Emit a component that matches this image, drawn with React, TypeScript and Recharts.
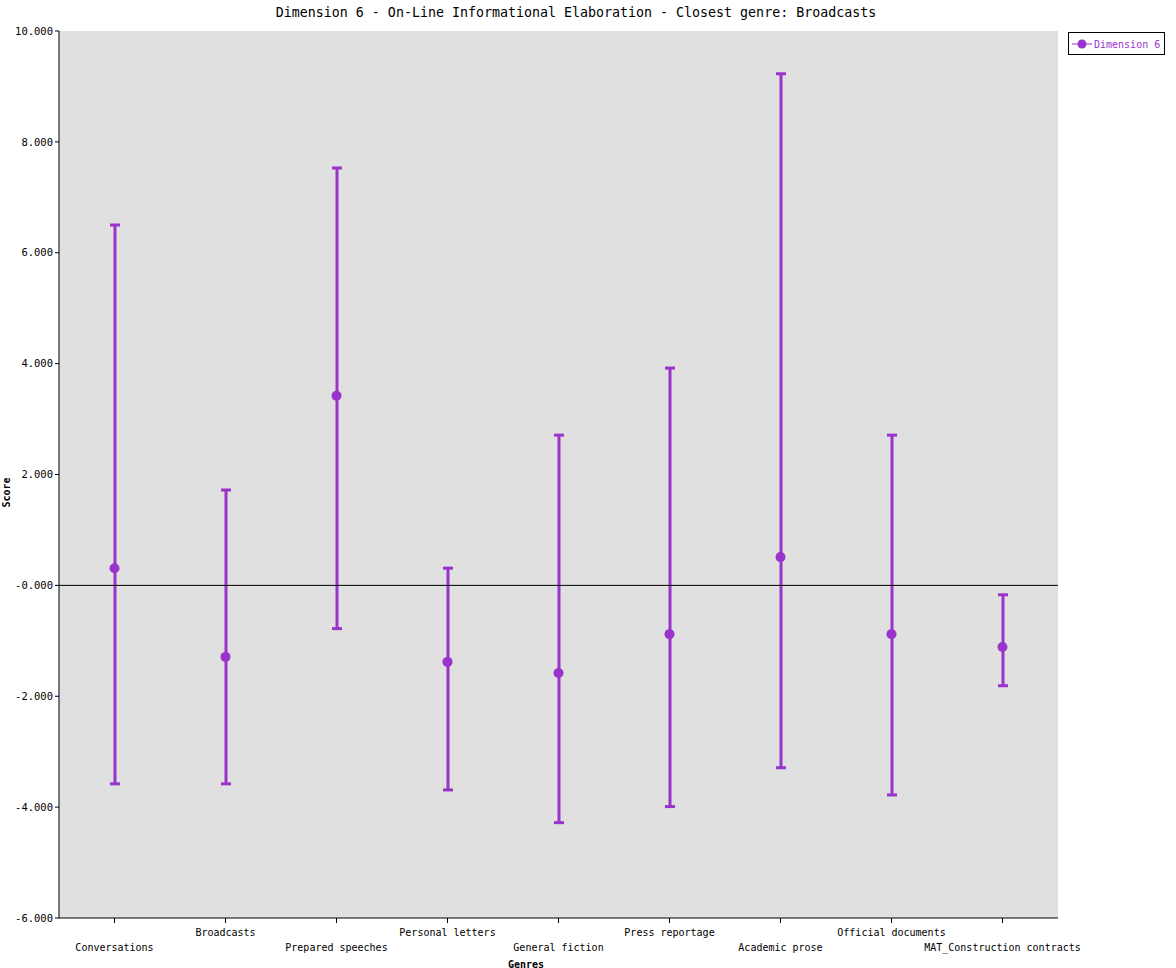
import React from 'react';
import { ComposedChart, Bar, Line, XAxis, YAxis, CartesianGrid, ReferenceLine } from 'recharts';

const genres = [
  'Conversations',
  'Broadcasts',
  'Prepared speeches',
  'Personal letters',
  'General fiction',
  'Press reportage',
  'Academic prose',
  'Official documents',
  'MAT_Construction contracts',
];
const means = [0.31, -1.29, 3.42, -1.38, -1.58, -0.88, 0.51, -0.88, -1.11];
const lows = [-3.58, -3.58, -0.78, -3.69, -4.28, -3.99, -3.29, -3.78, -1.81];
const highs = [6.5, 1.72, 7.53, 0.31, 2.71, 3.92, 9.23, 2.71, -0.17];
const scoreTicks = [-6, -4, -2, 0, 2, 4, 6, 8, 10];

const PURPLE = '#9933cc';
const MONO = '"DejaVu Sans Mono", "Liberation Mono", monospace';

const data = genres.map((name, i) => ({
  name,
  mean: means[i],
  range: [lows[i], highs[i]],
}));

// vertical bar with caps for the low..high range
const ErrorShape = (props: any) => {
  const { x, y, width, height } = props;
  const top = Math.min(y, y + height);
  const bottom = Math.max(y, y + height);
  const cx = x + width / 2;
  return (
    <g stroke={PURPLE} strokeWidth={3}>
      <line x1={cx} x2={cx} y1={top} y2={bottom} />
      <line x1={x} x2={x + width} y1={top} y2={top} />
      <line x1={x} x2={x + width} y1={bottom} y2={bottom} />
    </g>
  );
};

const GenreTick = (props: any) => {
  const { x, payload, index } = props;
  const lower = index % 2 === 0;
  return (
    <text
      x={x}
      y={lower ? 951 : 936}
      textAnchor="middle"
      fontFamily={MONO}
      fontSize={10}
      fill="#000"
    >
      {payload.value}
    </text>
  );
};

const fmtScore = (v: number) => (v === 0 ? '-0.000' : v.toFixed(3));

const LegendBox = () => (
  <div
    style={{
      position: 'absolute',
      left: 1068,
      top: 32,
      border: '1px solid #000',
      background: '#fff',
      padding: '5px 4px 4px 3px',
      fontFamily: MONO,
      fontSize: 10,
      color: PURPLE,
      display: 'flex',
      alignItems: 'center',
      whiteSpace: 'nowrap',
    }}
  >
    <svg width={20} height={12} style={{ marginRight: 2 }}>
      <line x1={0} x2={20} y1={6} y2={6} stroke={PURPLE} strokeWidth={1} />
      <circle cx={10} cy={6} r={4.5} fill={PURPLE} />
    </svg>
    Dimension 6
  </div>
);

export default function App() {
  return (
    <div style={{ position: 'relative', width: 1176, height: 968, background: '#fff' }}>
      <style>{'body{margin:0}'}</style>
      <div
        style={{
          position: 'absolute',
          left: 0,
          width: 1152,
          top: 5,
          textAlign: 'center',
          fontFamily: MONO,
          fontSize: 13.3,
          color: '#000',
        }}
      >
        Dimension 6 - On-Line Informational Elaboration - Closest genre: Broadcasts
      </div>
      <ComposedChart
        width={1176}
        height={968}
        data={data}
        margin={{ top: 31, right: 118, bottom: 0, left: 0 }}
      >
        <CartesianGrid horizontal={false} vertical={false} fill="#e0e0e0" />
        <XAxis
          dataKey="name"
          height={50}
          interval={0}
          tick={<GenreTick />}
          tickSize={5}
          tickLine={{ stroke: '#000' }}
          axisLine={{ stroke: '#000' }}
        />
        <XAxis xAxisId="top" dataKey="name" orientation="top" height={0} tick={false} tickLine={false} axisLine={{ stroke: '#000' }} />
        <YAxis
          domain={[-6, 10]}
          ticks={scoreTicks}
          tickFormatter={fmtScore}
          width={59}
          tickSize={4}
          tick={{ fontFamily: MONO, fontSize: 10.5, fill: '#000' }}
          tickLine={{ stroke: '#000' }}
          axisLine={{ stroke: '#000' }}
          allowDataOverflow
        />
        <YAxis yAxisId="right" orientation="right" domain={[-6, 10]} width={0} tick={false} tickLine={false} axisLine={{ stroke: '#000' }} />
        <ReferenceLine y={0} stroke="#000" strokeWidth={1} />
        <Bar dataKey="range" barSize={10} shape={<ErrorShape />} isAnimationActive={false} />
        <Line
          dataKey="mean"
          name="Dimension 6"
          stroke="none"
          dot={{ r: 5, fill: PURPLE, stroke: PURPLE, strokeWidth: 0 }}
          activeDot={false}
          isAnimationActive={false}
        />
      </ComposedChart>
      <LegendBox />
      <div
        style={{
          position: 'absolute',
          left: 0,
          top: 959,
          width: 1052,
          textAlign: 'center',
          fontFamily: MONO,
          fontSize: 10,
          fontWeight: 'bold',
          color: '#000',
        }}
      >
        Genres
      </div>
      <div
        style={{
          position: 'absolute',
          left: -12,
          top: 487,
          width: 36,
          transform: 'rotate(-90deg)',
          textAlign: 'center',
          fontFamily: MONO,
          fontSize: 10,
          fontWeight: 'bold',
          color: '#000',
        }}
      >
        Score
      </div>
    </div>
  );
}
